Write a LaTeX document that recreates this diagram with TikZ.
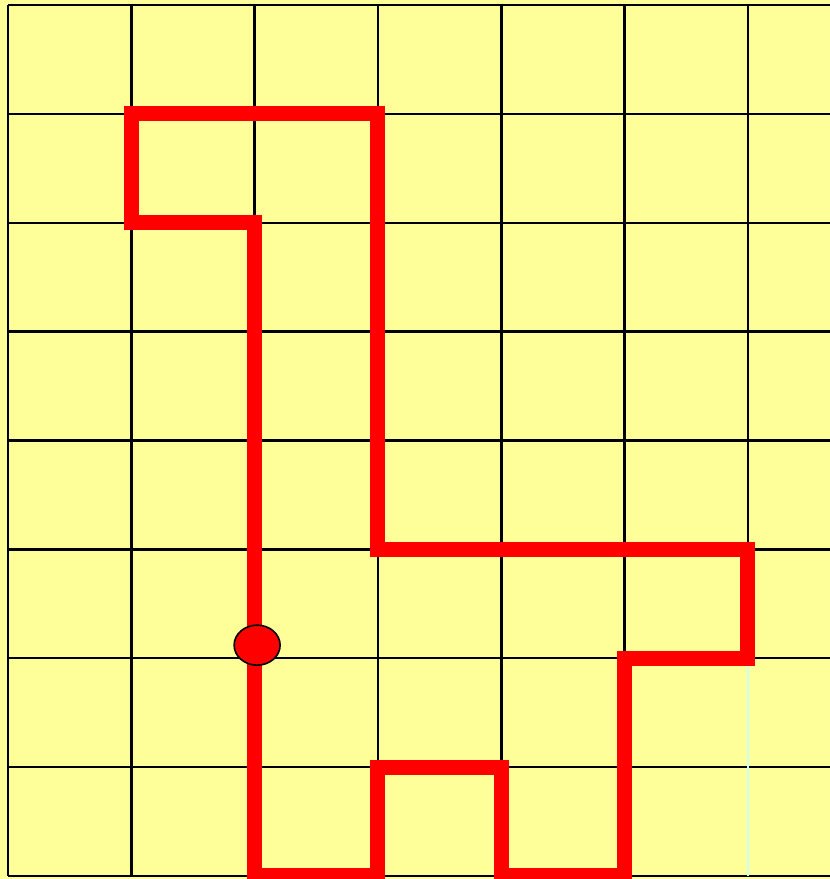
\documentclass[tikz,border=0pt]{standalone}
\usepackage{xcolor}
\usepackage{tikz}
\usetikzlibrary{shapes.geometric}

\definecolor{paper}{HTML}{FFFF99}
\definecolor{route}{HTML}{FF0000}
\definecolor{paleline}{HTML}{CCFFFF}

\begin{document}
\begin{tikzpicture}[
    x=123.33pt, y=-108.875pt,
    gridline/.style={draw=black, line width=2.4pt},
    faintline/.style={draw=paleline, line width=2.4pt},
    walk/.style={draw=route, line width=15pt, line join=miter},
    marker/.style={ellipse, draw=black, line width=1.6pt, fill=route, minimum width=46pt, minimum height=40pt, inner sep=0pt}
]

% Background
\fill[paper] (-0.0649,-0.0459) rectangle (6.665,8.028);
\useasboundingbox (-0.0649,-0.0459) rectangle (6.665,8.028);

% Grid
\foreach \r in {0,...,8}
    \draw[gridline] (0,\r) -- (6.7,\r);
\foreach \c in {0,...,5}
    \draw[gridline] (\c,0) -- (\c,8);
\draw[gridline] (6,0) -- (6,6);
\draw[faintline] (6,6) -- (6,8);

% Closed route
\draw[walk] (1,1) -- (3,1) -- (3,5) -- (6,5) -- (6,6) -- (5,6) -- (5,8) -- (4,8)
    -- (4,7) -- (3,7) -- (3,8) -- (2,8) -- (2,2) -- (1,2) -- cycle;

% Start marker
\node[marker] (start) at (2.02,5.88) {};

\end{tikzpicture}
\end{document}
